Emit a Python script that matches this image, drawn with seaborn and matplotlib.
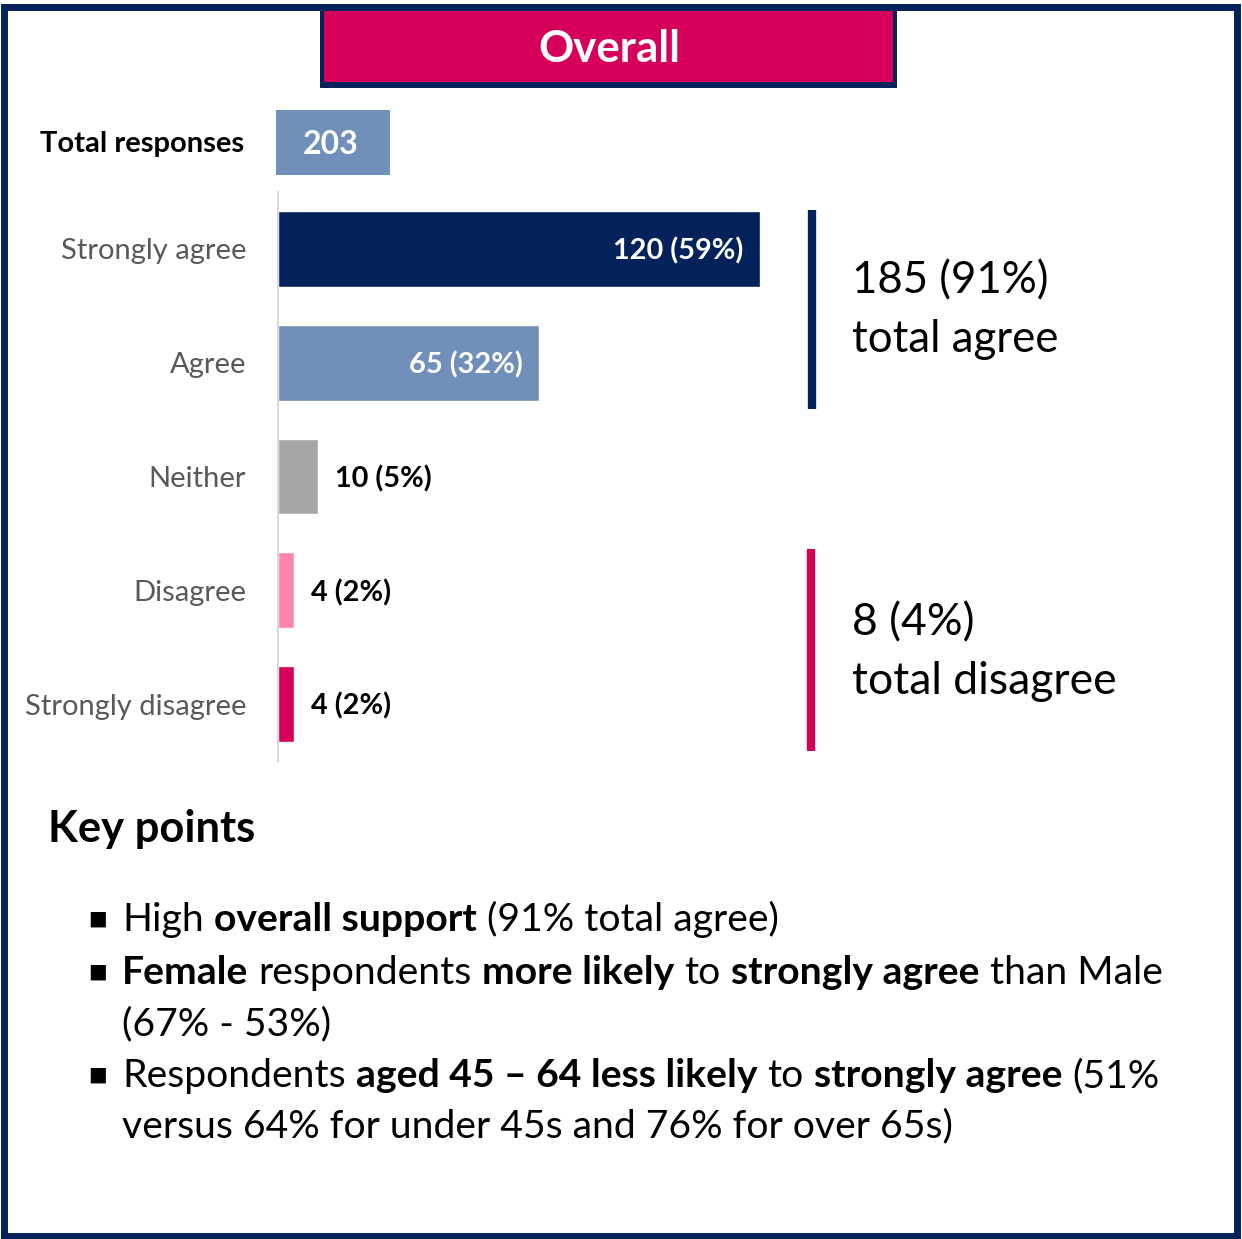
import matplotlib
matplotlib.use("Agg")
import matplotlib.pyplot as plt
import seaborn as sns
import pandas as pd
from matplotlib.patches import Rectangle

# ---------------- data ----------------
categories = ["Strongly agree", "Agree", "Neither", "Disagree", "Strongly disagree"]
counts = [120, 65, 10, 4, 4]
percents = [59, 32, 5, 2, 2]
bar_colors = ["#03215B", "#7090B9", "#A6A6A6", "#FF85B0", "#D6005A"]
total_responses = 203
title = "Overall"
agree_total = "185 (91%)"
agree_label = "total agree"
disagree_total = "8 (4%)"
disagree_label = "total disagree"
key_title = "Key points"
bullet_lines = [
    [("High", False), ("overall support", True), ("(91% total agree)", False)],
    [("Female", True), ("respondents", False), ("more likely", True), ("to", False),
     ("strongly agree", True), ("than Male", False)],
    [("(67% - 53%)", False)],
    [("Respondents", False), ("aged 45 \u2013 64 less likely", True), ("to", False),
     ("strongly agree", True), ("(51%", False)],
    [("versus 64% for under 45s and 76% for over 65s)", False)],
]
bullet_starts = [True, True, False, True, False]

# ---------------- style ----------------
sns.set_theme(style="white")
FONT = ["Lato", "DejaVu Sans"]
plt.rcParams["font.family"] = FONT

NAVY = "#03215B"
PINK = "#D6005A"

W, H = 1242, 1239
fig = plt.figure(figsize=(W / 100, H / 100), dpi=100)
fig.patch.set_facecolor("white")


def fx(px):
    return px / W


def fy(py):
    return 1 - py / H


# outer frame
fig.patches.append(Rectangle((fx(4), fy(1236)), fx(1237) - fx(4), fy(7) - fy(1236),
                             transform=fig.transFigure, fill=False,
                             edgecolor=NAVY, linewidth=5, zorder=0))

# title box
fig.patches.append(Rectangle((fx(320), fy(88)), fx(897) - fx(320), fy(9) - fy(88),
                             transform=fig.transFigure, facecolor=NAVY,
                             edgecolor="none", zorder=1))
fig.patches.append(Rectangle((fx(324), fy(82)), fx(893) - fx(324), fy(11) - fy(82),
                             transform=fig.transFigure, facecolor=PINK,
                             edgecolor="none", zorder=2))
fig.text(fx(609), fy(49), title, color="white", fontsize=31.5, fontweight="bold",
         ha="center", va="center", zorder=3)

# total responses box
fig.patches.append(Rectangle((fx(276), fy(175)), fx(390) - fx(276), fy(110) - fy(175),
                             transform=fig.transFigure, facecolor="#7090B9",
                             edgecolor="none", zorder=1))
fig.text(fx(331), fy(145), str(total_responses), color="white", fontsize=23,
         fontweight="bold", ha="center", va="center", zorder=3)
fig.text(fx(244), fy(144), "Total responses", color="black", fontsize=21,
         fontweight="bold", ha="right", va="center")

# ---------------- main bar chart ----------------
df = pd.DataFrame({"category": categories, "count": counts})
ax = fig.add_axes([fx(278), fy(761), fx(810) - fx(278), fy(192) - fy(761)])
sns.barplot(data=df, x="count", y="category", hue="category", palette=bar_colors,
            orient="h", width=0.667, legend=False, ax=ax, saturation=1)
ax.set_xlim(0, (810 - 278) / 4.017)
ax.set_ylim(4.5, -0.5)
ax.set_xlabel("")
ax.set_ylabel("")
ax.set_xticks([])
for s in ["top", "right", "bottom"]:
    ax.spines[s].set_visible(False)
ax.spines["left"].set_color("#D9D9D9")
ax.spines["left"].set_linewidth(1.5)
ax.tick_params(axis="y", length=0, pad=23, labelsize=21, labelcolor="#595959")
ax.set_facecolor("none")

for i, (c, p) in enumerate(zip(counts, percents)):
    lab = f"{c} ({p}%)"
    if c >= 50:
        ax.annotate(lab, xy=(c, i), xytext=(-12, -1.5), textcoords="offset points",
                    ha="right", va="center", color="white", fontsize=20.8,
                    fontweight="bold")
    else:
        ax.annotate(lab, xy=(c, i), xytext=(12, -1.5), textcoords="offset points",
                    ha="left", va="center", color="black", fontsize=20.8,
                    fontweight="bold")

# bracket lines and totals
fig.add_artist(plt.Line2D([fx(812), fx(812)], [fy(210), fy(409)], color=NAVY,
                          linewidth=6, solid_capstyle="butt"))
fig.add_artist(plt.Line2D([fx(811), fx(811)], [fy(549), fy(751)], color=PINK,
                          linewidth=6, solid_capstyle="butt"))
fig.text(fx(852), fy(281), agree_total, fontsize=31.5, color="black", ha="left", va="center")
fig.text(fx(852), fy(339), agree_label, fontsize=31.5, color="black", ha="left", va="center")
fig.text(fx(852), fy(623), disagree_total, fontsize=32, color="black", ha="left", va="center")
fig.text(fx(852), fy(681), disagree_label, fontsize=32, color="black", ha="left", va="center")

# ---------------- key points ----------------
fig.text(fx(48), fy(829), key_title, fontsize=31.3, fontweight="bold", color="black",
         ha="left", va="center")

renderer = fig.canvas.get_renderer()
FS = 28.2
gap = 0.26 * FS * 100 / 72
baselines = [931, 984, 1035, 1087, 1137]
for line, start, yb in zip(bullet_lines, bullet_starts, baselines):
    if start:
        fig.text(fx(87), fy(yb - 3), "\u25aa", fontsize=22, color="black",
                 family="DejaVu Sans", ha="left", va="baseline")
    x = 122
    for seg, bold in line:
        t = fig.text(fx(x), fy(yb), seg, fontsize=FS, color="black",
                     fontweight="bold" if bold else "normal",
                     ha="left", va="baseline")
        bb = t.get_window_extent(renderer)
        x = bb.x1 + gap

fig.savefig("out.png", dpi=100, facecolor="white")
